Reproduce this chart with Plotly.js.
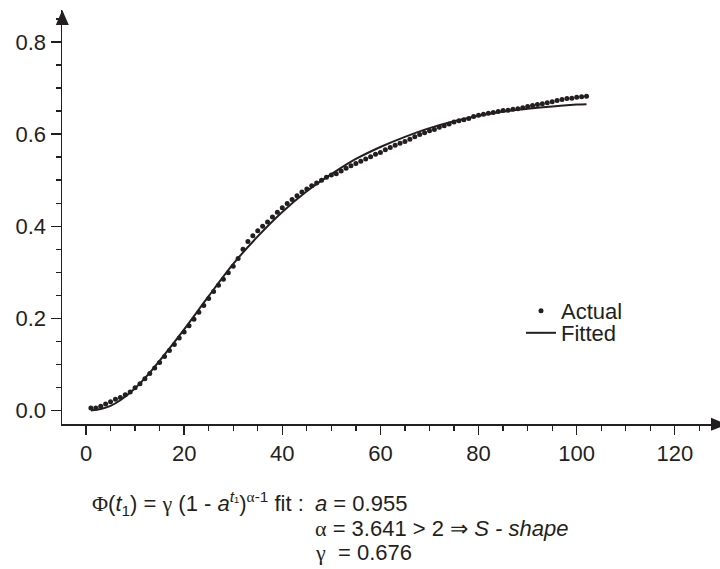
<!DOCTYPE html>
<html>
<head>
<meta charset="utf-8">
<script src="https://cdn.plot.ly/plotly-3.0.1.min.js"></script>
<style>html,body{margin:0;padding:0;background:#fff;}#chart{width:720px;height:569px;}</style>
</head>
<body>
<div id="chart"></div>
<script>
// ---- data ----
const actualT = [1,2,3,4,5,6,7,8,9,10,11,12,13,14,15,16,17,18,19,20,21,22,23,24,25,26,27,28,29,30,31,32,33,34,35,36,37,38,39,40,41,42,43,44,45,46,47,48,49,50,51,52,53,54,55,56,57,58,59,60,61,62,63,64,65,66,67,68,69,70,71,72,73,74,75,76,77,78,79,80,81,82,83,84,85,86,87,88,89,90,91,92,93,94,95,96,97,98,99,100,101,102];
const actualY = [0.005,0.005,0.009,0.014,0.019,0.024,0.028,0.034,0.040,0.049,0.058,0.069,0.080,0.092,0.104,0.117,0.130,0.143,0.157,0.170,0.184,0.198,0.213,0.228,
  0.243,0.258,0.272,0.285,0.299,0.313,0.330,
  0.350,0.367,0.379,0.390,0.400,0.409,0.420,0.430,0.440,0.449,0.458,0.466,0.474,0.481,0.488,0.494,0.500,0.506,0.511,
  0.514,0.520,0.526,0.531,0.536,0.541,0.546,0.551,0.556,0.560,
  0.566,0.571,0.576,0.580,0.584,0.589,0.594,0.599,0.603,0.607,0.610,0.615,0.618,0.622,0.626,0.629,0.631,0.634,0.638,0.641,0.643,0.645,0.647,0.649,0.651,0.652,0.654,0.655,0.657,0.660,0.662,0.664,0.666,0.668,0.670,0.673,0.675,0.677,0.678,0.680,0.681,
  0.682];
const fitT = [1,3,5,7,10,13,16,20,25,30,35,40,45,50,55,60,65,70,75,80,85,90,95,100,102];
const fitY = [0.000,0.003,0.010,0.022,0.048,0.082,0.121,0.176,0.248,0.318,0.378,0.431,0.476,0.513,0.546,0.572,0.594,0.613,0.628,0.640,0.649,0.655,0.660,0.664,0.665];
const xTickVals = [0,20,40,60,80,100,120];
const yTickVals = [0.0,0.2,0.4,0.6,0.8];
const seriesNames = ["Actual","Fitted"];

const INK = '#231f20';
const FONT = 'Liberation Sans, Arial, sans-serif';
const FS = 22;

const traces = [
  {x: actualT, y: actualY, type:'scatter', mode:'markers', name: seriesNames[0],
   marker:{color:INK, size:5}, legend:'legend', cliponaxis:false},
  {x: fitT, y: fitY, type:'scatter', mode:'lines', name: seriesNames[1],
   line:{color:INK, width:2, shape:'spline', smoothing:0.8}, legend:'legend2', cliponaxis:false}
];

const L = 62, T = 10, W = 658, H = 414;
function px(x){ return (x - L)/W; }
function py(y){ return (T + H - y)/H; }
const G = "<span style=\"font-family:'Liberation Serif'\">";

const layout = {
  width:720, height:569,
  margin:{l:L, r:0, t:T, b:145, pad:0},
  paper_bgcolor:'#fff', plot_bgcolor:'#fff',
  font:{family:FONT, size:FS, color:INK},
  showlegend:true,
  xaxis:{range:[-4.89,129.2], showgrid:false, zeroline:false, showline:true, linecolor:INK, linewidth:1.5,
    tickmode:'array', tickvals:xTickVals, ticks:'outside', ticklen:9, tickwidth:1.3, tickcolor:INK,
    tickfont:{family:FONT, size:FS, color:INK},
    minor:{dtick:5, tick0:0, ticks:'outside', ticklen:5, tickwidth:1.3, tickcolor:INK, showgrid:false}},
  yaxis:{range:[-0.0295,0.8694], showgrid:false, zeroline:false, showline:true, linecolor:INK, linewidth:1.5,
    tickmode:'array', tickvals:yTickVals, tickformat:'.1f', ticks:'outside', ticklen:10, tickwidth:1.3, tickcolor:INK,
    tickfont:{family:FONT, size:FS, color:INK},
    minor:{dtick:0.05, tick0:0, ticks:'outside', ticklen:5, tickwidth:1.3, tickcolor:INK, showgrid:false}},
  legend:{x:px(521), y:py(311), xanchor:'left', yanchor:'middle', bgcolor:'rgba(0,0,0,0)', borderwidth:0,
    font:{family:FONT, size:FS, color:INK}},
  legend2:{x:px(521), y:py(333), xanchor:'left', yanchor:'middle', bgcolor:'rgba(0,0,0,0)', borderwidth:0,
    font:{family:FONT, size:FS, color:INK}},
  shapes:[
    {type:'path', xref:'paper', yref:'paper', path:`M ${px(62.3)} ${py(10)} L ${px(55.8)} ${py(25)} L ${px(68.8)} ${py(25)} Z`, fillcolor:INK, line:{width:0}},
    {type:'path', xref:'paper', yref:'paper', path:`M ${px(727)} ${py(424.3)} L ${px(711)} ${py(417.8)} L ${px(711)} ${py(430.8)} Z`, fillcolor:INK, line:{width:0}}
  ],
  annotations:[
    {xref:'paper', yref:'paper', x:px(306), y:py(503), xanchor:'right', yanchor:'middle', showarrow:false,
     font:{family:FONT, size:FS, color:INK},
     text:G+"Φ</span>(<i>t</i><sub>1</sub>) = "+G+"γ</span> (1 - <i>a</i><sup><i>t</i>₁</sup>)<sup>"+G+"α</span>-1</sup> fit :"},
    {xref:'paper', yref:'paper', x:px(313), y:py(503), xanchor:'left', yanchor:'middle', showarrow:false,
     font:{family:FONT, size:FS, color:INK},
     text:"<i>a</i> = 0.955"},
    {xref:'paper', yref:'paper', x:px(313), y:py(528), xanchor:'left', yanchor:'middle', showarrow:false,
     font:{family:FONT, size:FS, color:INK},
     text:G+"α</span> = 3.641 > 2 ⇒ <i>S - shape</i>"},
    {xref:'paper', yref:'paper', x:px(313), y:py(552), xanchor:'left', yanchor:'middle', showarrow:false,
     font:{family:FONT, size:FS, color:INK},
     text:G+"γ</span>  = 0.676"}
  ]
};

Plotly.newPlot('chart', traces, layout, {displayModeBar:false, staticPlot:true});
</script>
</body>
</html>
